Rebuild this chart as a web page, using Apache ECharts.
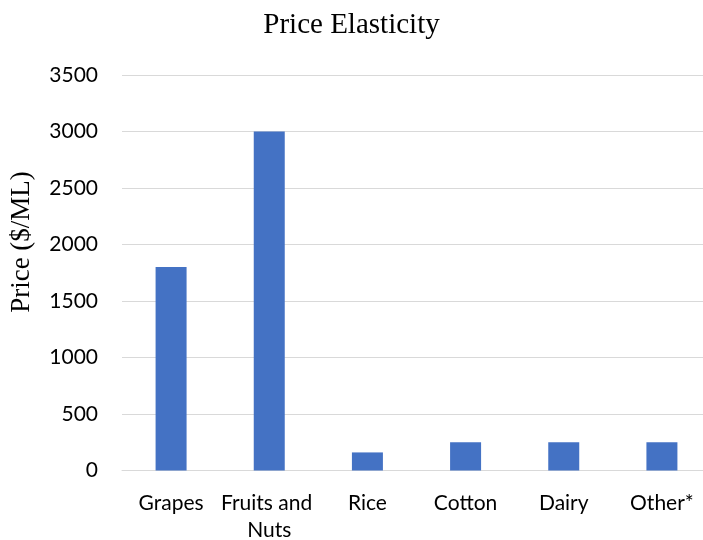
<!DOCTYPE html>
<html>
<head>
<meta charset="utf-8">
<script src="https://cdn.jsdelivr.net/npm/echarts@6/dist/echarts.min.js"></script>
<style>
html,body{margin:0;padding:0;background:#fff;}
#chart{width:703px;height:540px;}
</style>
</head>
<body>
<div id="chart"></div>
<script>
const categories = ['Grapes', 'Fruits and Nuts', 'Rice', 'Cotton', 'Dairy', 'Other*'];
const prices = [1800, 3000, 160, 250, 250, 250];
const yTicks = { min: 0, max: 3500, interval: 500 };
const titleText = 'Price Elasticity';
const yAxisTitle = 'Price ($/ML)';

const chart = echarts.init(document.getElementById('chart'), null, { renderer: 'canvas' });
chart.setOption({
  animation: false,
  backgroundColor: '#ffffff',
  title: {
    text: titleText,
    left: 'center',
    top: 6,
    textStyle: { fontFamily: 'Liberation Serif', fontSize: 29, fontWeight: 'normal', color: '#000' }
  },
  graphic: [{
    type: 'text',
    x: 22,
    y: 242,
    rotation: Math.PI / 2,
    style: {
      text: yAxisTitle,
      fontFamily: 'Liberation Serif',
      fontSize: 27,
      fill: '#000',
      align: 'center',
      verticalAlign: 'middle'
    }
  }],
  grid: { left: 122, width: 589, top: 75, height: 395.5, containLabel: false, outerBoundsMode: 'none' },
  xAxis: {
    type: 'category',
    data: categories,
    axisLine: { show: true, lineStyle: { color: '#D9D9D9', width: 1 } },
    axisTick: { show: false },
    axisLabel: {
      interval: 0,
      margin: 19,
      fontFamily: 'Lato',
      fontSize: 21,
      color: '#000',
      lineHeight: 27,
      width: 100,
      overflow: 'break'
    }
  },
  yAxis: {
    type: 'value',
    min: yTicks.min,
    max: yTicks.max,
    interval: yTicks.interval,
    axisLine: { show: false },
    axisTick: { show: false },
    splitLine: { show: true, lineStyle: { color: '#D9D9D9', width: 1 } },
    axisLabel: { margin: 24, fontFamily: 'Lato', fontSize: 21, color: '#000', formatter: function (v) { return String(v); } }
  },
  series: [{
    type: 'bar',
    data: prices,
    barWidth: 31,
    itemStyle: { color: '#4472C4' }
  }]
});
</script>
</body>
</html>
